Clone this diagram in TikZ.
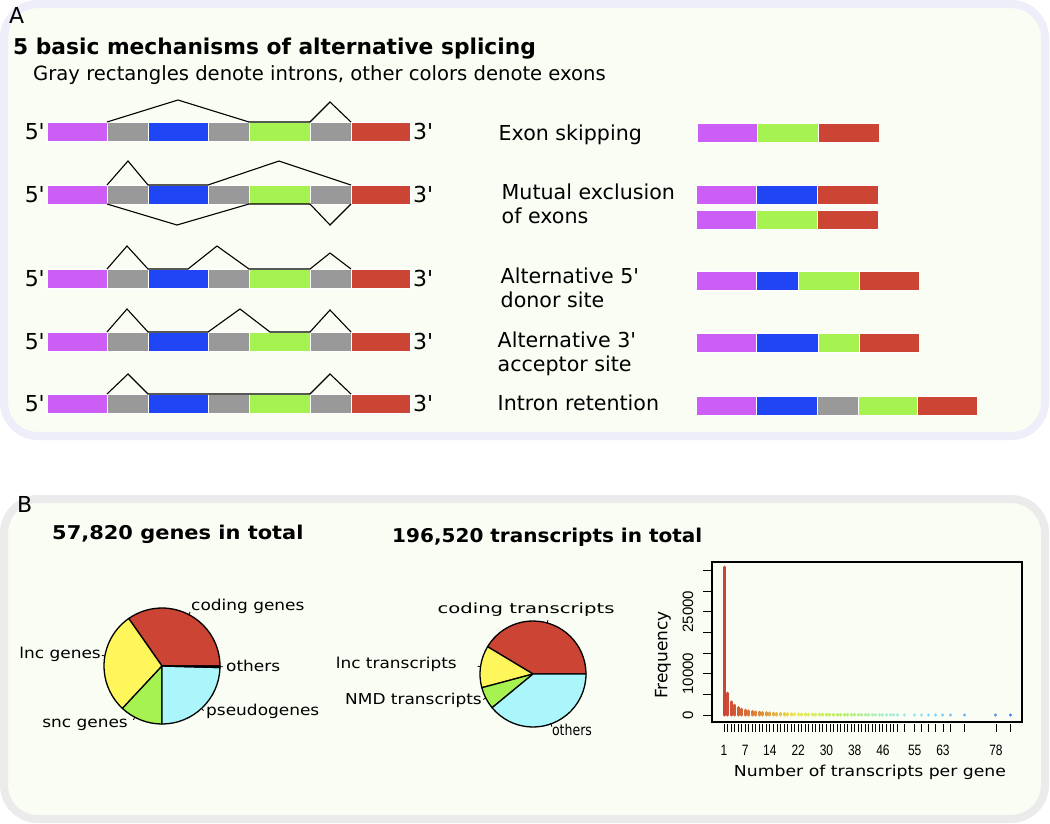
\documentclass[tikz,border=0pt]{standalone}
\usepackage{fontspec}
\setmainfont{DejaVu Sans}
\newfontfamily\axisfont{Liberation Sans}
\usetikzlibrary{positioning}

\definecolor{exonpurple}{RGB}{204,94,245}
\definecolor{exonblue}{RGB}{31,69,245}
\definecolor{introngray}{RGB}{153,153,153}
\definecolor{exongreen}{RGB}{166,242,80}
\definecolor{exonred}{RGB}{204,68,51}
\definecolor{panelfill}{RGB}{249,253,243}
\definecolor{frameA}{RGB}{238,238,250}
\definecolor{frameB}{RGB}{235,235,235}
\definecolor{pieyellow}{RGB}{255,246,92}
\definecolor{piecyan}{RGB}{170,246,250}
\definecolor{pieblue}{RGB}{25,35,150}
\definecolor{historange}{RGB}{228,150,60}
\definecolor{histyellow}{RGB}{238,232,85}
\definecolor{histlime}{RGB}{185,240,85}
\definecolor{histmint}{RGB}{165,240,205}
\definecolor{histcyan}{RGB}{140,225,250}
\definecolor{histblue}{RGB}{70,120,250}

% colour of one histogram bar, red -> yellow -> green -> blue
\newcommand\histcolor[1]{%
  \pgfmathtruncatemacro\histv{#1}%
  \ifnum\histv<13
    \pgfmathtruncatemacro\histp{(\histv-1)*100/12}\colorlet{barc}{historange!\histp!exonred}%
  \else\ifnum\histv<21
    \pgfmathtruncatemacro\histp{(\histv-13)*100/8}\colorlet{barc}{histyellow!\histp!historange}%
  \else\ifnum\histv<33
    \pgfmathtruncatemacro\histp{(\histv-21)*100/12}\colorlet{barc}{histlime!\histp!histyellow}%
  \else\ifnum\histv<47
    \pgfmathtruncatemacro\histp{(\histv-33)*100/14}\colorlet{barc}{histmint!\histp!histlime}%
  \else\ifnum\histv<57
    \pgfmathtruncatemacro\histp{(\histv-47)*100/10}\colorlet{barc}{histcyan!\histp!histmint}%
  \else
    \pgfmathtruncatemacro\histp{(\histv-57)*100/25}\colorlet{barc}{histblue!\histp!histcyan}%
  \fi\fi\fi\fi\fi}

\begin{document}
\begin{tikzpicture}[x=1pt, y=-1pt,
    seg/.style={rectangle, draw=white, line width=0.6, minimum height=19,
      inner sep=0, outer sep=0},
    splice/.style={line width=1.1},
    endlabel/.style={inner sep=0, font=\fontsize{22}{22}\selectfont},
    mechlabel/.style={anchor=base west, inner sep=0, font=\fontsize{20.6}{24}\selectfont},
    panel/.style={line width=8, fill=panelfill, rounded corners=34},
    pieslice/.style={draw=black, line width=1.3, line join=round},
    pietick/.style={line width=0.8},
    pielabel/.style={inner sep=0, xscale=1.13, font=\fontsize{15}{15}\selectfont},
    btitle/.style={inner sep=0, anchor=base west, xscale=1.07,
      font=\bfseries\fontsize{19}{19}\selectfont},
    histbar/.style={line width=3, line cap=round},
    axislabel/.style={inner sep=0, font=\axisfont\fontsize{15}{15}\selectfont}]

  \fill[white] (0,0) rectangle (1050,823);
  \useasboundingbox (0,0) rectangle (1050,823);

  % panel A
  \draw[panel, draw=frameA] (4,4) rectangle (1045,436);
  \node[anchor=base west, inner sep=0, font=\fontsize{22}{22}\selectfont] (labA) at (9,23) {A};
  \node[anchor=base west, inner sep=0, font=\bfseries\fontsize{21.75}{22}\selectfont] (titleA)
    at (13,54.5) {5 basic mechanisms of alternative splicing};
  \node[anchor=base west, inner sep=0, font=\fontsize{19.6}{22}\selectfont] (subA)
    at (33,80.5) {Gray rectangles denote introns, other colors denote exons};

  % pre-mRNA rows
  \foreach \r/\yc in {1/131.5,2/194.5,3/278.5,4/341.5,5/403.5}{
    \foreach \i/\xl/\w/\c in {1/47/60/exonpurple,2/107/41/introngray,3/148/60/exonblue,
        4/208/41/introngray,5/249/61/exongreen,6/310/41/introngray,7/351/59/exonred}
      \node[seg, fill=\c, minimum width=\w, anchor=west] (g\r-\i) at (\xl,\yc) {};
    \node[endlabel, left=2pt of g\r-1] (five\r) {5\textquotesingle};
    \node[endlabel, right=3pt of g\r-7] (three\r) {3\textquotesingle};
  }

  % splicing paths
  \draw[splice] (g1-1.north east) -- ++(71,-22) -- (g1-5.north west) -- (g1-5.north east)
    -- ++(20,-20) -- (g1-7.north west);
  \draw[splice] (g2-1.north east) -- ++(21,-24) -- (g2-3.north west) -- (g2-3.north east)
    -- ++(71,-24) -- (g2-7.north west);
  \draw[splice] (g2-1.south east) -- ++(70,21) -- (g2-5.south west) -- (g2-5.south east)
    -- ++(20,21) -- (g2-7.south west);
  \draw[splice] (g3-1.north east) -- ++(20,-23) -- (g3-3.north west) -- ++(40,0)
    -- ++(29,-23) -- (g3-5.north west) -- (g3-5.north east) -- ++(20,-16) -- (g3-7.north west);
  \draw[splice] (g4-1.north east) -- ++(20,-23) -- (g4-3.north west) -- (g4-3.north east)
    -- ++(32,-23) -- ++(30,23) -- (g4-5.north east) -- ++(20,-22) -- (g4-7.north west);
  \draw[splice] (g5-1.north east) -- ++(21,-20) -- (g5-3.north west) -- (g5-5.north east)
    -- ++(20,-20) -- (g5-7.north west);

  % mechanism names
  \node[mechlabel] (skip) at (498.5,140.7) {Exon skipping};
  \node[mechlabel] (mutual) at (501.5,199.3) {Mutual exclusion};
  \node[mechlabel] (mutual2) at (501.5,223.3) {of exons};
  \node[mechlabel] (donor) at (500.5,283.3) {Alternative 5\textquotesingle};
  \node[mechlabel] (donor2) at (500.5,307.3) {donor site};
  \node[mechlabel] (acceptor) at (497.5,347.3) {Alternative 3\textquotesingle};
  \node[mechlabel] (acceptor2) at (497.5,371.7) {acceptor site};
  \node[mechlabel] (retention) at (497.5,410.7) {Intron retention};

  % mature mRNAs
  \foreach \i/\xl/\w/\c in {1/697/60/exonpurple,2/757/61/exongreen,3/818/61/exonred}
    \node[seg, fill=\c, minimum width=\w, anchor=west] (s\i) at (\xl,132.5) {};
  \foreach \i/\xl/\w/\c in {1/696/60/exonpurple,2/756/61/exonblue,3/817/61/exonred}
    \node[seg, fill=\c, minimum width=\w, anchor=west] (ma\i) at (\xl,195) {};
  \foreach \i/\xl/\w/\c in {1/696/60/exonpurple,2/756/61/exongreen,3/817/61/exonred}
    \node[seg, fill=\c, minimum width=\w, anchor=west] (mb\i) at (\xl,220) {};
  \foreach \i/\xl/\w/\c in {1/696/60/exonpurple,2/756/42/exonblue,3/798/61/exongreen,4/859/60/exonred}
    \node[seg, fill=\c, minimum width=\w, anchor=west] (d\i) at (\xl,281) {};
  \foreach \i/\xl/\w/\c in {1/696/60/exonpurple,2/756/62/exonblue,3/818/41/exongreen,4/859/60/exonred}
    \node[seg, fill=\c, minimum width=\w, anchor=west] (a\i) at (\xl,342.5) {};
  \foreach \i/\xl/\w/\c in {1/696/60/exonpurple,2/756/61/exonblue,3/817/41/introngray,
      4/858/59/exongreen,5/917/60/exonred}
    \node[seg, fill=\c, minimum width=\w, anchor=west] (ir\i) at (\xl,406) {};

  % panel B
  \draw[panel, draw=frameB] (4,499) rectangle (1045,819);
  \node[anchor=base west, inner sep=0, font=\fontsize{22}{22}\selectfont] (labB) at (17,512) {B};
  \node[btitle, xscale=1.03] (genetitle) at (52,539.3) {57,820 genes in total};
  \node[btitle, xscale=0.985] (txtitle) at (392,542.3) {196,520 transcripts in total};

  % genes pie
  \coordinate (genes) at (162,666);
  \begin{scope}[shift={(genes)}, y=1pt]
    \filldraw[pieslice, fill=exonred] (0,0) -- (0:58) arc[start angle=0, end angle=125, radius=58] -- cycle;
    \filldraw[pieslice, fill=pieyellow] (0,0) -- (125:58) arc[start angle=125, end angle=227, radius=58] -- cycle;
    \filldraw[pieslice, fill=exongreen] (0,0) -- (227:58) arc[start angle=227, end angle=270, radius=58] -- cycle;
    \filldraw[pieslice, fill=piecyan] (0,0) -- (270:58) arc[start angle=270, end angle=358.5, radius=58] -- cycle;
    \filldraw[pieslice, fill=pieblue] (0,0) -- (358.5:58) arc[start angle=358.5, end angle=360, radius=58] -- cycle;
    \foreach \a in {62.5,170,242,313,359.3}
      \draw[pietick] (\a:58) -- (\a:61);
  \end{scope}
  \node[pielabel, anchor=west] (codinggenes) at (191,606) {coding genes};
  \node[pielabel, anchor=east] (lncgenes) at (101,654) {lnc genes};
  \node[pielabel, anchor=west] (othergenes) at (226,666) {others};
  \node[pielabel, anchor=west] (pseudogenes) at (206,711) {pseudogenes};
  \node[pielabel, anchor=east] (sncgenes) at (128,725) {snc genes};

  % transcripts pie
  \coordinate (transcripts) at (533,674);
  \begin{scope}[shift={(transcripts)}, y=1pt]
    \filldraw[pieslice, fill=exonred] (0,0) -- (0:53) arc[start angle=0, end angle=149, radius=53] -- cycle;
    \filldraw[pieslice, fill=pieyellow] (0,0) -- (149:53) arc[start angle=149, end angle=195, radius=53] -- cycle;
    \filldraw[pieslice, fill=exongreen] (0,0) -- (195:53) arc[start angle=195, end angle=219.5, radius=53] -- cycle;
    \filldraw[pieslice, fill=piecyan] (0,0) -- (219.5:53) arc[start angle=219.5, end angle=360, radius=53] -- cycle;
    \foreach \a in {74.5,172,207,289.8}
      \draw[pietick] (\a:53) -- (\a:56);
  \end{scope}
  \node[pielabel, xscale=1.24, font=\fontsize{14}{14}\selectfont] (codingtx) at (526,610) {coding transcripts};
  \node[pielabel, anchor=east] (lnctx) at (457,664) {lnc transcripts};
  \node[pielabel, anchor=east] (nmdtx) at (482,700) {NMD transcripts};
  \node[pielabel, xscale=0.74] (othertx) at (572,730) {others};

  % histogram of transcripts per gene (heights in thousands)
  \node[draw, line width=1.2, minimum width=310, minimum height=160, inner sep=0] (histbox) at (867,642) {};
  \foreach \v in {1,...,50}{
    \histcolor{\v}
    \pgfmathsetmacro\barx{724+(\v-1)*3.532}
    \pgfmathsetmacro\barf{\v==1 ? 35.8 : (\v==2 ? 5.3 : (\v==3 ? 3.15 : 2.4*(\v/4)^(-1.25)))}
    \draw[histbar, barc] (\barx,715) -- (\barx,715-\barf*4.134);
    \draw[line width=0.9] (\barx,724) -- (\barx,732);
  }
  \foreach \v in {52,55,57,59,61,63,65,69,78,82}{
    \histcolor{\v}
    \pgfmathsetmacro\barx{724+(\v-1)*3.532}
    \draw[histbar, barc] (\barx,715) -- (\barx,714.8);
    \draw[line width=0.9] (\barx,724) -- (\barx,732);
  }
  \foreach \k in {0,5,...,35}
    \draw[line width=0.9] (703,715-\k*4.134) -- (712,715-\k*4.134);
  \foreach \f/\y in {0/715,10000/673.7,25000/611.7}
    \node[axislabel, rotate=90] (ylab\f) at (688,\y) {\f};
  \foreach \v in {1,7,14,22,30,38,46,55,63,78}
    \node[axislabel, xscale=0.8] (xlab\v) at (724+\v*3.532-3.532,750) {\v};
  \node[inner sep=0, rotate=90, font=\fontsize{17}{17}\selectfont] (freq) at (663,655) {Frequency};
  \node[inner sep=0, xscale=1.15, font=\fontsize{15}{15}\selectfont] (ntx) at (870,772) {Number of transcripts per gene};
\end{tikzpicture}
\end{document}
